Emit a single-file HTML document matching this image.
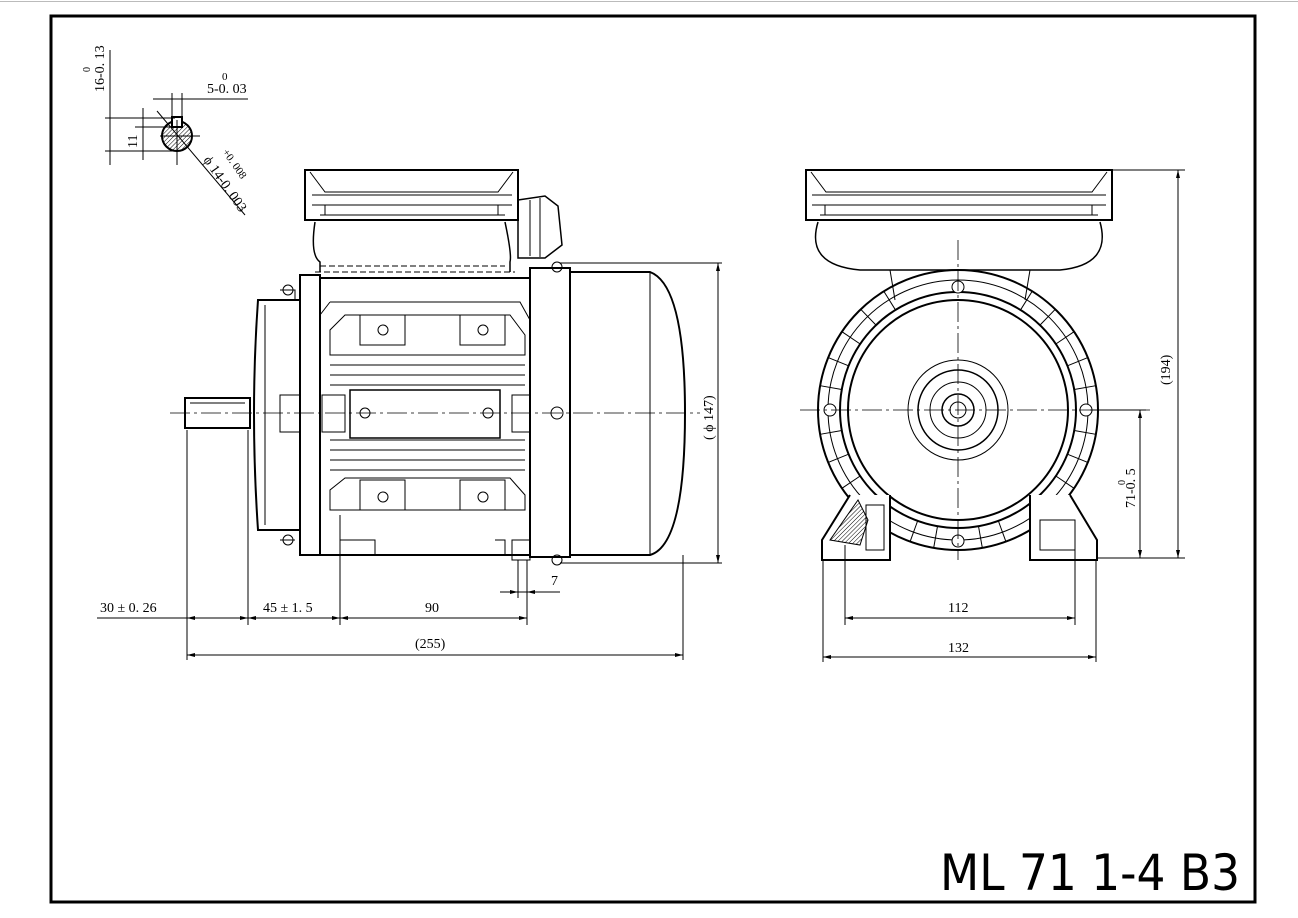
<!DOCTYPE html>
<html><head><meta charset="utf-8"><style>
html,body{margin:0;padding:0;background:#fff;}
svg{display:block;}
text{font-family:"Liberation Serif",serif;fill:#000;}
</style></head><body>
<svg width="1298" height="918" viewBox="0 0 1298 918" xmlns="http://www.w3.org/2000/svg">
<defs>
<pattern id="h" width="3" height="3" patternUnits="userSpaceOnUse" patternTransform="rotate(45)"><line x1="0" y1="0" x2="0" y2="3" stroke="#000" stroke-width="1"/></pattern>
</defs>
<line x1="0" y1="1.5" x2="1298" y2="1.5" stroke="#bbb" stroke-width="1"/>
<rect x="51" y="16" width="1204" height="886" fill="none" stroke="#000" stroke-width="3"/>
<text x="940" y="890" font-size="50" style="font-family:'DejaVu Sans Condensed','Liberation Sans',sans-serif" textLength="300" lengthAdjust="spacingAndGlyphs">ML 71 1-4 B3</text>

<g fill="none" stroke="#000" stroke-width="1">
<circle cx="177" cy="136" r="15" fill="url(#h)" stroke-width="2"/>
<rect x="172" y="117" width="10" height="10" fill="#fff" stroke-width="2"/>
<line x1="105" y1="118" x2="175" y2="118"/><line x1="105" y1="151" x2="175" y2="151"/>
<line x1="110" y1="50" x2="110" y2="165"/><line x1="143" y1="108" x2="143" y2="160"/>
<line x1="135" y1="127" x2="175" y2="127"/>
<line x1="172" y1="93" x2="172" y2="118"/><line x1="182" y1="93" x2="182" y2="118"/>
<line x1="153" y1="99" x2="248" y2="99"/>
<line x1="157" y1="111" x2="245" y2="215"/>
<line x1="160" y1="136" x2="200" y2="136"/><line x1="177" y1="120" x2="177" y2="165"/>

<path d="M305 170 L518 170 L518 220 L305 220 Z" stroke-width="2"/>
<path d="M310 172 L325 192 L498 192 L513 172"/>
<path d="M312 195 L512 195 M312 205 L512 205 M325 205 L325 215 M498 205 L498 215 M320 215 L505 215"/>
<path d="M315 222 Q310 255 320 262 L320 272 M505 222 Q512 255 510 262 L510 272" stroke-width="1.5"/>
<path d="M315 272 L515 272 M320 266 L505 266" stroke-dasharray="6 3"/>
<path d="M518 200 L545 196 L558 206 L562 245 L545 258 L518 258 Z" stroke-width="1.5"/>
<path d="M530 200 L530 256 M540 198 L540 257"/>
<rect x="530" y="268" width="40" height="289" stroke-width="2"/>
<path d="M570 272 L650 272 Q685 285 685 413 Q685 545 650 555 L570 555" stroke-width="2"/>
<path d="M650 272 L650 555"/>
<circle cx="557" cy="267" r="5"/><circle cx="557" cy="560" r="5"/>
<path d="M320 278 L530 278 M320 555 L530 555 M320 278 L320 555" stroke-width="2"/>
<path d="M330 302 L520 302 L530 320 M330 302 L320 315"/>
<path d="M345 315 L510 315 L525 335 L525 355 L330 355 L330 330 Z"/>
<rect x="360" y="315" width="45" height="30"/><rect x="460" y="315" width="45" height="30"/>
<circle cx="383" cy="330" r="5"/><circle cx="483" cy="330" r="5"/>
<path d="M330 365 L525 365 M330 375 L525 375 M330 385 L525 385 M330 440 L525 440 M330 450 L525 450 M330 460 L525 460 M330 470 L525 470"/>
<rect x="350" y="390" width="150" height="48" stroke-width="1.5"/>
<circle cx="365" cy="413" r="5"/><circle cx="488" cy="413" r="5"/><circle cx="557" cy="413" r="6"/>
<path d="M345 478 L510 478 L525 495 L525 510 L330 510 L330 490 Z"/>
<rect x="360" y="480" width="45" height="30"/><rect x="460" y="480" width="45" height="30"/>
<circle cx="383" cy="497" r="5"/><circle cx="483" cy="497" r="5"/>
<path d="M340 540 L375 540 L375 555 M495 540 L505 540 L505 555 M340 515 L340 555 M512 540 L530 540 L530 560 L512 560 Z"/>
<path d="M322 395 L345 395 L345 432 L322 432 Z M512 395 L530 395 L530 432 L512 432 Z"/>
<path d="M300 275 L320 275 L320 555 L300 555 Z" stroke-width="2"/>
<path d="M258 300 L300 300 L300 530 L258 530 Q250 413 258 300 Z" stroke-width="2"/>
<path d="M265 305 L265 525 M280 290 L295 290 L295 300 M280 540 L295 540"/>
<circle cx="288" cy="290" r="5"/><circle cx="288" cy="540" r="5"/>
<path d="M280 395 L300 395 L300 432 L280 432 Z"/>
<rect x="185" y="398" width="65" height="30" stroke-width="2"/>
<path d="M190 403 L245 403"/>
<line x1="170" y1="413" x2="700" y2="413" stroke-dasharray="20 4 3 4" stroke-width="0.8"/>

<line x1="187" y1="430" x2="187" y2="660"/><line x1="248" y1="430" x2="248" y2="625"/>
<line x1="340" y1="555" x2="340" y2="625"/><line x1="527" y1="560" x2="527" y2="625"/>
<line x1="518" y1="560" x2="518" y2="598"/><line x1="683" y1="555" x2="683" y2="660"/>
<line x1="97" y1="618" x2="527" y2="618"/>
<line x1="187" y1="655" x2="683" y2="655"/>
<line x1="500" y1="592" x2="560" y2="592"/>
<line x1="560" y1="263" x2="722" y2="263"/><line x1="560" y1="563" x2="722" y2="563"/>
<line x1="718" y1="263" x2="718" y2="563"/>

<path d="M806 170 L1112 170 L1112 220 L806 220 Z" stroke-width="2"/>
<path d="M811 172 L826 192 L1092 192 L1107 172"/>
<path d="M812 195 L1106 195 M812 205 L1106 205 M825 205 L825 215 M1092 205 L1092 215 M820 215 L1098 215"/>
<path d="M818 222 Q805 265 860 270 L1060 270 Q1112 265 1100 222" stroke-width="1.5"/>
<path d="M890 270 L895 300 M1030 270 L1025 300"/>
<circle cx="958" cy="410" r="140" stroke-width="2"/>
<circle cx="958" cy="410" r="130"/>
<g id="fins" stroke-width="1">
<path d="M1076 410 L1098 410" transform="rotate(10 958 410)"/>
<path d="M1076 410 L1098 410" transform="rotate(22 958 410)"/>
<path d="M1076 410 L1098 410" transform="rotate(34 958 410)"/>
<path d="M1076 410 L1098 410" transform="rotate(-10 958 410)"/>
<path d="M1076 410 L1098 410" transform="rotate(-22 958 410)"/>
<path d="M1076 410 L1098 410" transform="rotate(-34 958 410)"/>
<path d="M1076 410 L1098 410" transform="rotate(-46 958 410)"/>
<path d="M1076 410 L1098 410" transform="rotate(-58 958 410)"/>
<path d="M1076 410 L1098 410" transform="rotate(-122 958 410)"/>
<path d="M1076 410 L1098 410" transform="rotate(-134 958 410)"/>
<path d="M1076 410 L1098 410" transform="rotate(-146 958 410)"/>
<path d="M1076 410 L1098 410" transform="rotate(-158 958 410)"/>
<path d="M1076 410 L1098 410" transform="rotate(-170 958 410)"/>
<path d="M1076 410 L1098 410" transform="rotate(170 958 410)"/>
<path d="M1076 410 L1098 410" transform="rotate(158 958 410)"/>
<path d="M1076 410 L1098 410" transform="rotate(146 958 410)"/>
<path d="M1076 410 L1098 410" transform="rotate(70 958 410)"/>
<path d="M1076 410 L1098 410" transform="rotate(80 958 410)"/>
<path d="M1076 410 L1098 410" transform="rotate(100 958 410)"/>
<path d="M1076 410 L1098 410" transform="rotate(110 958 410)"/>
</g>
<circle cx="958" cy="410" r="118" stroke-width="2" fill="#fff"/>
<circle cx="958" cy="410" r="110" stroke-width="2"/>
<circle cx="958" cy="410" r="50"/>
<circle cx="958" cy="410" r="40" stroke-width="1.5"/>
<circle cx="958" cy="410" r="28"/>
<circle cx="958" cy="410" r="16" stroke-width="1.5"/>
<circle cx="958" cy="410" r="8"/>
<circle cx="958" cy="287" r="6" fill="#fff"/><circle cx="958" cy="541" r="6" fill="#fff"/>
<circle cx="830" cy="410" r="6" fill="#fff"/><circle cx="1086" cy="410" r="6" fill="#fff"/>
<path d="M850 495 L822 540 L822 560 L890 560 L890 495 M1030 495 L1030 560 L1097 560 L1097 540 L1070 495" stroke-width="2" fill="#fff"/>
<path d="M858 500 L830 540 L860 545 L868 520 Z" fill="url(#h)"/>
<rect x="866" y="505" width="18" height="45"/>
<rect x="1040" y="520" width="35" height="30"/>
<line x1="800" y1="410" x2="1150" y2="410" stroke-dasharray="20 4 3 4" stroke-width="0.8"/>
<line x1="958" y1="240" x2="958" y2="560" stroke-dasharray="20 4 3 4" stroke-width="0.8"/>
<line x1="845" y1="545" x2="845" y2="625"/><line x1="1075" y1="545" x2="1075" y2="625"/>
<line x1="823" y1="560" x2="823" y2="662"/><line x1="1096" y1="560" x2="1096" y2="662"/>
<line x1="845" y1="618" x2="1075" y2="618"/><line x1="823" y1="657" x2="1096" y2="657"/>
<line x1="1112" y1="170" x2="1185" y2="170"/><line x1="1097" y1="558" x2="1185" y2="558"/>
<line x1="1178" y1="170" x2="1178" y2="558"/>
<line x1="1090" y1="410" x2="1146" y2="410"/><line x1="1140" y1="410" x2="1140" y2="558"/>
</g>

<g fill="#000" stroke="none">
<path d="M187 618 l8 -2 v4z M248 618 l-8 -2 v4z M248 618 l8 -2 v4z M340 618 l-8 -2 v4z M340 618 l8 -2 v4z M527 618 l-8 -2 v4z"/>
<path d="M187 655 l8 -2 v4z M683 655 l-8 -2 v4z"/>
<path d="M718 263 l-2 8 h4z M718 563 l-2 -8 h4z"/>
<path d="M845 618 l8 -2 v4z M1075 618 l-8 -2 v4z M823 657 l8 -2 v4z M1096 657 l-8 -2 v4z"/>
<path d="M1178 170 l-2 8 h4z M1178 558 l-2 -8 h4z M1140 410 l-2 8 h4z M1140 558 l-2 -8 h4z"/>
<path d="M518 592 l-8 -2 v4z M527 592 l8 -2 v4z"/>
</g>

<g font-size="14">
<text x="100" y="612">30 ± 0. 26</text>
<text x="263" y="612">45 ± 1. 5</text>
<text x="425" y="612">90</text>
<text x="415" y="648">(255)</text>
<text x="551" y="585">7</text>
<text x="948" y="612">112</text>
<text x="948" y="652">132</text>
<text x="207" y="93">5-0. 03</text><text x="222" y="80" font-size="11">0</text>
<text transform="translate(713,440) rotate(-90)">( ϕ 147)</text>
<text transform="translate(1170,385) rotate(-90)">(194)</text>
<text transform="translate(1135,508) rotate(-90)">71-0. 5</text>
<text transform="translate(1125,485) rotate(-90)" font-size="10">0</text>
<text transform="translate(104,92) rotate(-90)">16-0. 13</text>
<text transform="translate(90,72) rotate(-90)" font-size="10">0</text>
<text transform="translate(137,148) rotate(-90)">11</text>
<text transform="translate(203,160) rotate(55)">ϕ 14-0. 003</text>
<text transform="translate(222,152) rotate(55)" font-size="11">+0. 008</text>
</g>
</svg>
</body></html>
